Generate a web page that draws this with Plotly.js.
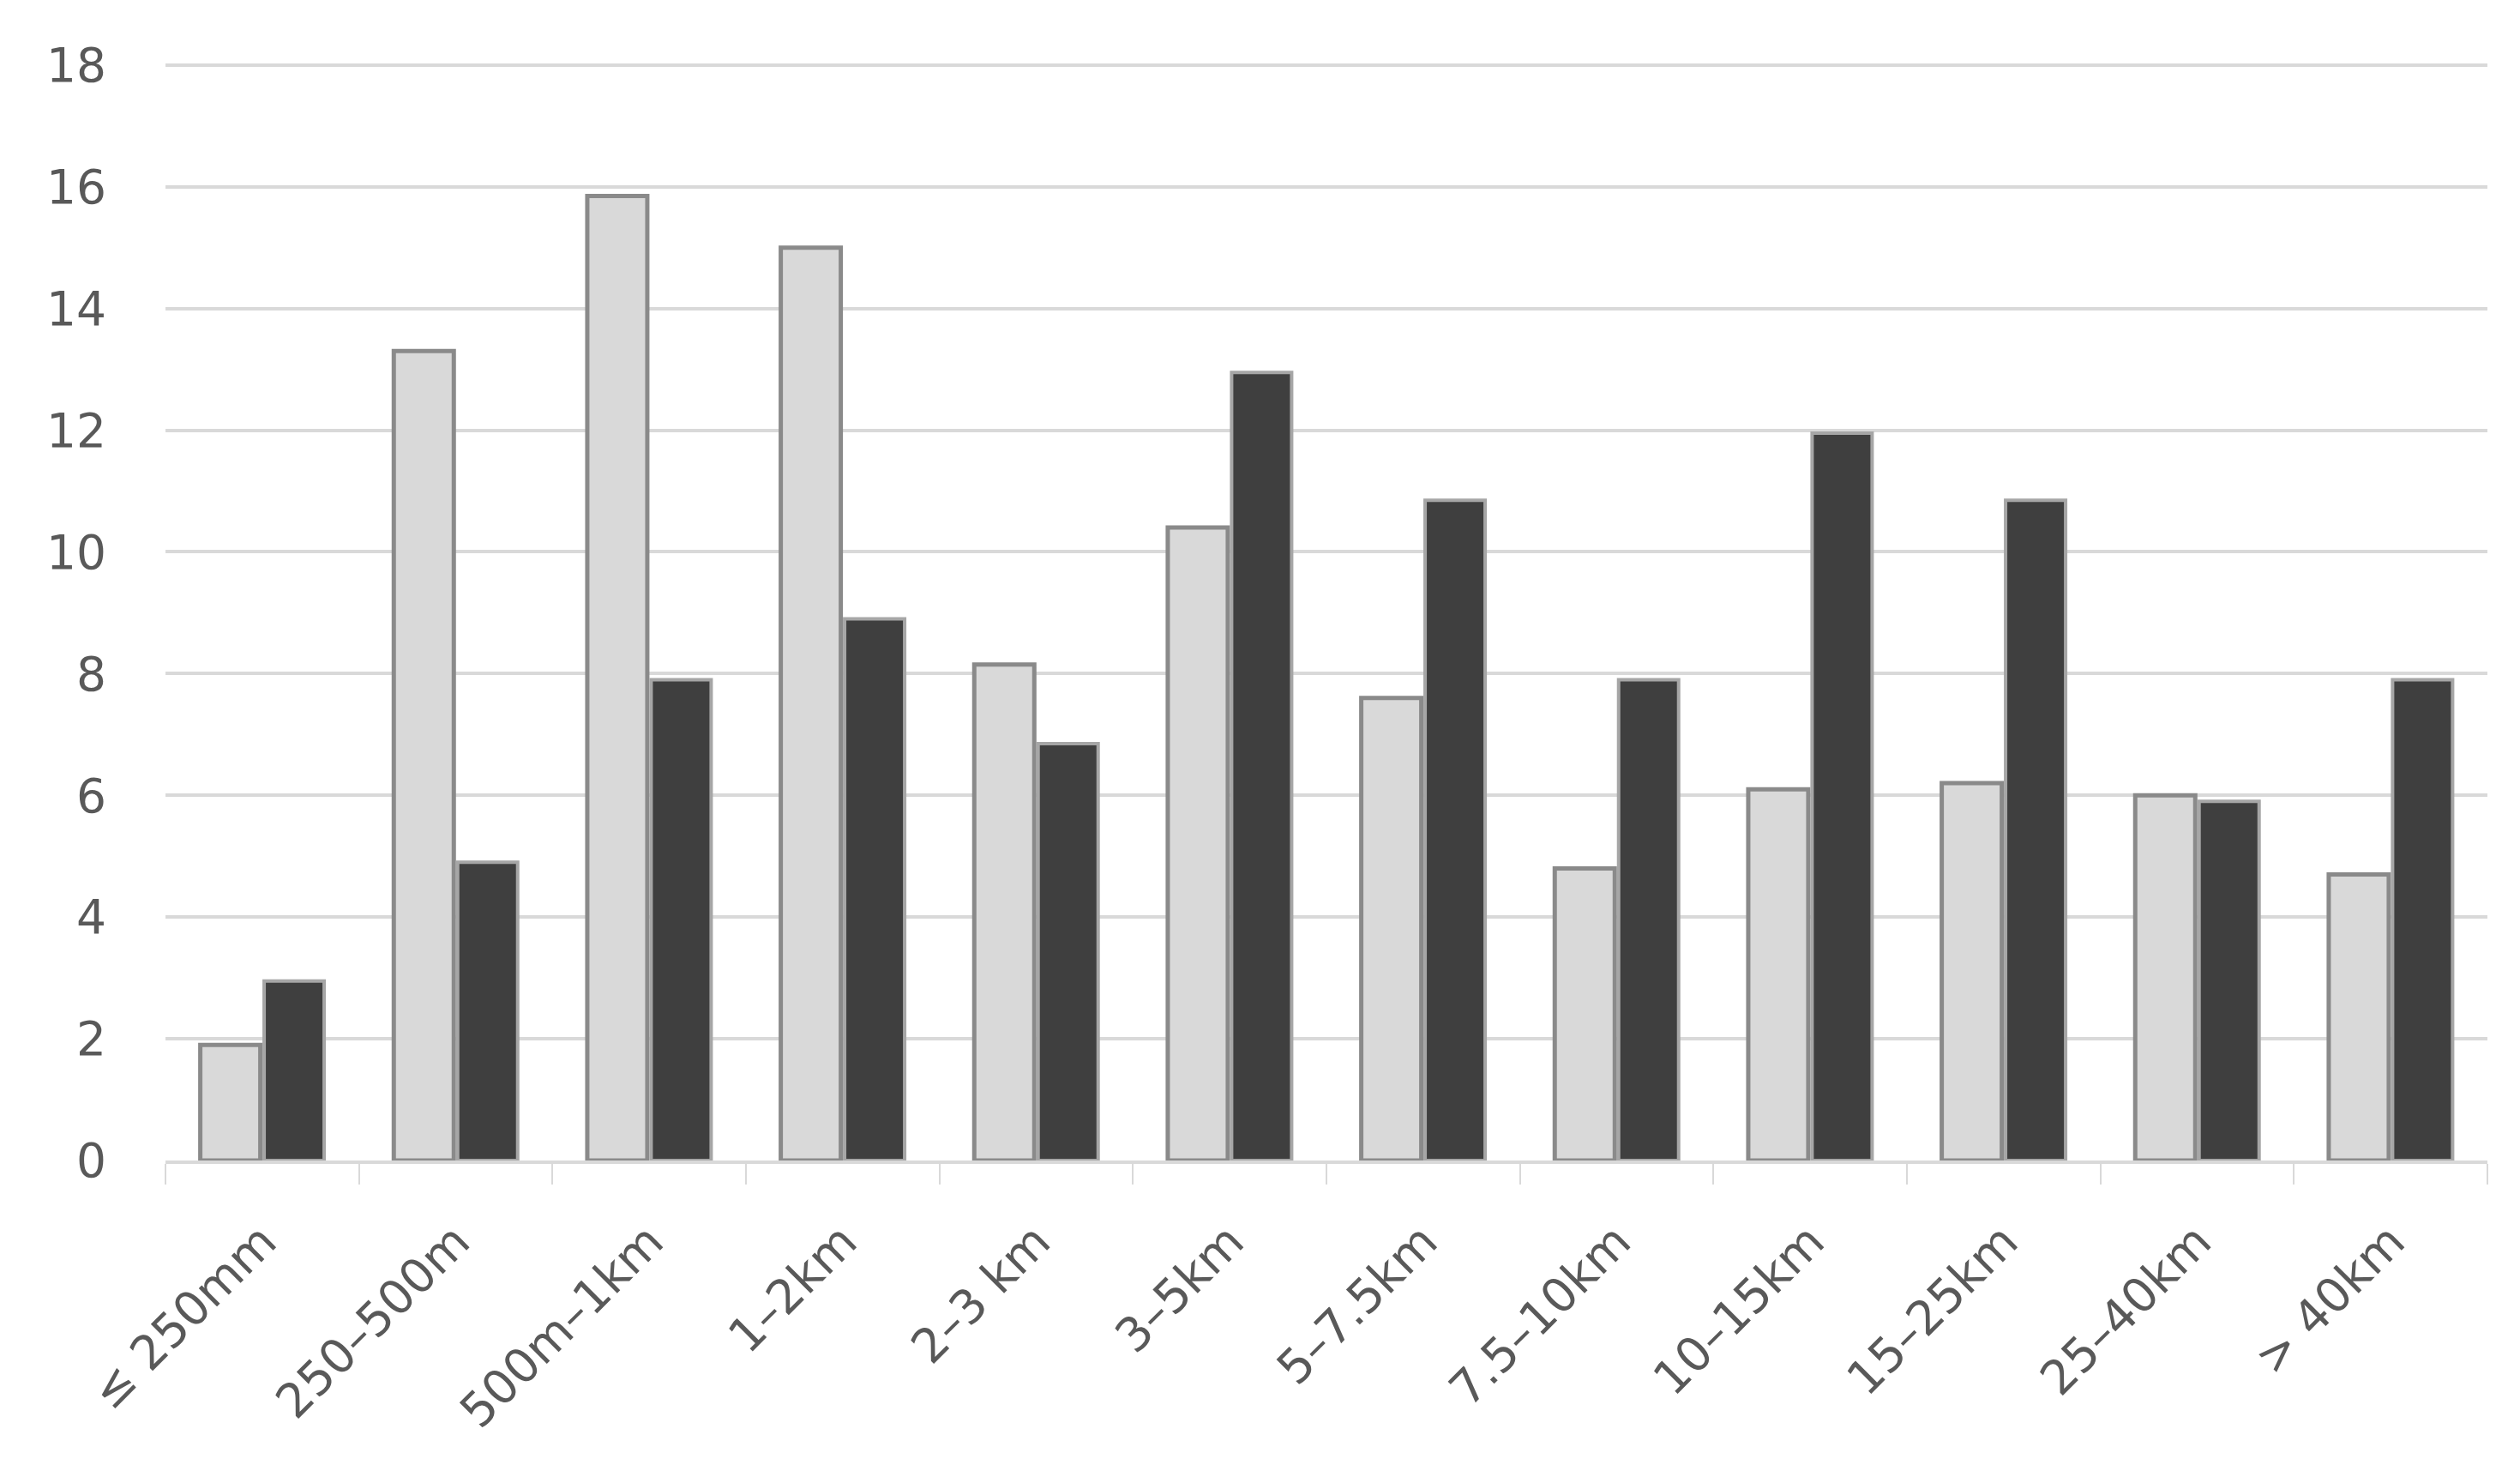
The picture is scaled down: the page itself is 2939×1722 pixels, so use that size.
<!DOCTYPE html>
<html>
<head>
<meta charset="utf-8">
<script src="https://cdn.plot.ly/plotly-3.0.1.min.js"></script>
<style>html,body{margin:0;padding:0;background:#fff;}#chart{width:2939px;height:1722px;}</style>
</head>
<body>
<div id="chart"></div>
<script>
const categories = ["≤ 250mm", "250–500m", "500m–1km", "1–2km", "2–3 km", "3–5km", "5–7.5km", "7.5–10km", "10–15km", "15–25km", "25–40km", "> 40km"];
const seriesLight = [1.9, 13.3, 15.85, 15.0, 8.15, 10.4, 7.6, 4.8, 6.1, 6.2, 6.0, 4.7];
const seriesDark = [2.95, 4.9, 7.9, 8.9, 6.85, 12.95, 10.85, 7.9, 11.95, 10.85, 5.9, 7.9];
const yTicks = [0, 2, 4, 6, 8, 10, 12, 14, 16, 18];

const font = {family: "DejaVu Sans, Verdana, sans-serif", size: 55, color: "#595959"};

const data = [
  {type: "bar", x: categories, y: seriesLight, name: "A",
   marker: {color: "#d9d9d9", line: {color: "#8a8a8a", width: 5}}},
  {type: "bar", x: categories, y: seriesDark, name: "B",
   marker: {color: "#3f3f3f", line: {color: "#a6a6a6", width: 4}}}
];

const layout = {
  width: 2939, height: 1722,
  margin: {l: 193, r: 38, t: 73, b: 369},
  paper_bgcolor: "#fff", plot_bgcolor: "#fff",
  showlegend: false,
  barmode: "group",
  bargap: 0.34,
  bargroupgap: 0.06,
  font: font,
  xaxis: {
    type: "category",
    tickangle: -45,
    tickson: "boundaries",
    ticks: "outside", ticklen: 24, tickwidth: 2, tickcolor: "#d9d9d9",
    showline: true, linecolor: "#d9d9d9", linewidth: 4,
    showgrid: false,
    ticklabelstandoff: 36,
    tickfont: font,
    automargin: false
  },
  yaxis: {
    range: [0, 18.04],
    tickvals: yTicks,
    ticktext: yTicks.map(String),
    showgrid: true, gridcolor: "#d9d9d9", gridwidth: 4,
    zeroline: false,
    showline: false,
    ticks: "",
    ticklabelstandoff: 68,
    tickfont: font,
    automargin: false
  }
};

Plotly.newPlot("chart", data, layout, {displayModeBar: false, staticPlot: true});
</script>
</body>
</html>
